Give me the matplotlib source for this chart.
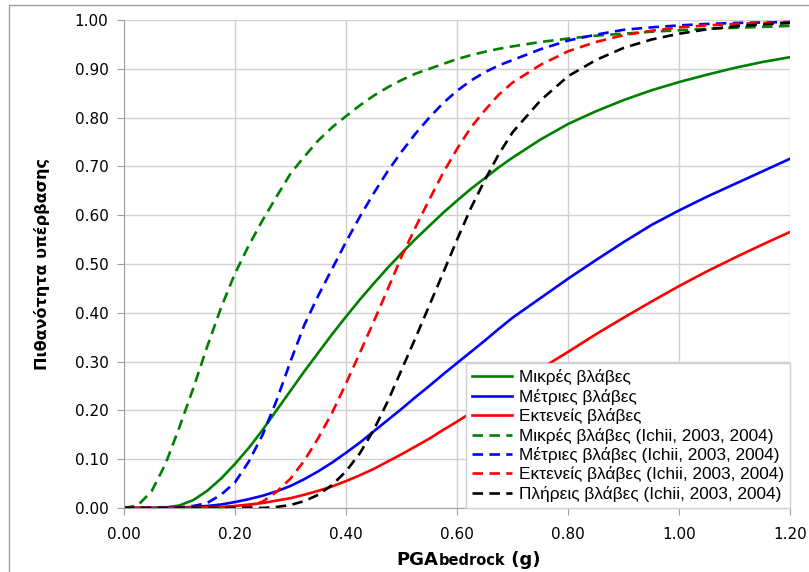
import matplotlib.pyplot as plt
from matplotlib.offsetbox import TextArea, HPacker, AnchoredOffsetbox

pga = [0.000, 0.025, 0.050, 0.075, 0.100, 0.125, 0.150, 0.175, 0.200, 0.225, 0.250, 0.275,
       0.300, 0.325, 0.350, 0.375, 0.400, 0.425, 0.450, 0.475, 0.500, 0.525, 0.550, 0.575,
       0.600, 0.625, 0.650, 0.675, 0.700, 0.750, 0.800, 0.850, 0.900, 0.950, 1.000, 1.050,
       1.100, 1.150, 1.200]

minor = [0.000, 0.000, 0.000, 0.001, 0.005, 0.016, 0.035, 0.060, 0.090, 0.123, 0.160, 0.200,
         0.240, 0.280, 0.318, 0.356, 0.392, 0.427, 0.460, 0.492, 0.522, 0.551, 0.578, 0.605,
         0.630, 0.654, 0.676, 0.698, 0.718, 0.755, 0.787, 0.813, 0.836, 0.856, 0.873, 0.888,
         0.902, 0.914, 0.924]
moderate = [0.000, 0.000, 0.000, 0.000, 0.001, 0.002, 0.004, 0.007, 0.012, 0.018, 0.025, 0.034,
            0.045, 0.059, 0.075, 0.093, 0.113, 0.134, 0.157, 0.180, 0.203, 0.227, 0.250, 0.274,
            0.297, 0.320, 0.343, 0.367, 0.390, 0.430, 0.470, 0.508, 0.545, 0.580, 0.610, 0.638,
            0.664, 0.690, 0.716]
extensive = [0.000, 0.000, 0.000, 0.000, 0.000, 0.001, 0.001, 0.002, 0.004, 0.007, 0.010, 0.015,
             0.020, 0.027, 0.035, 0.044, 0.055, 0.067, 0.080, 0.095, 0.110, 0.126, 0.142, 0.160,
             0.177, 0.195, 0.213, 0.232, 0.250, 0.285, 0.320, 0.356, 0.390, 0.423, 0.455, 0.485,
             0.513, 0.540, 0.566]

minor_ichii = [0.000, 0.005, 0.034, 0.090, 0.165, 0.245, 0.330, 0.410, 0.480, 0.538, 0.590, 0.638,
               0.685, 0.720, 0.753, 0.780, 0.803, 0.825, 0.845, 0.862, 0.877, 0.890, 0.900, 0.910,
               0.920, 0.928, 0.935, 0.941, 0.946, 0.955, 0.962, 0.968, 0.972, 0.976, 0.979, 0.982,
               0.984, 0.986, 0.988]
moderate_ichii = [0.000, 0.000, 0.000, 0.000, 0.001, 0.004, 0.010, 0.027, 0.052, 0.095, 0.150, 0.220,
                  0.300, 0.375, 0.435, 0.490, 0.545, 0.597, 0.645, 0.690, 0.730, 0.767, 0.800, 0.830,
                  0.855, 0.876, 0.893, 0.907, 0.918, 0.940, 0.958, 0.970, 0.980, 0.985, 0.989, 0.992,
                  0.994, 0.995, 0.996]
extensive_ichii = [0.000, 0.000, 0.000, 0.000, 0.000, 0.000, 0.000, 0.000, 0.000, 0.003, 0.013, 0.033,
                   0.060, 0.097, 0.143, 0.195, 0.255, 0.318, 0.382, 0.448, 0.515, 0.575, 0.632, 0.687,
                   0.736, 0.780, 0.815, 0.847, 0.872, 0.908, 0.936, 0.955, 0.969, 0.978, 0.985, 0.989,
                   0.992, 0.994, 0.995]
complete_ichii = [0.000, 0.000, 0.000, 0.000, 0.000, 0.000, 0.000, 0.000, 0.000, 0.000, 0.000, 0.002,
                  0.006, 0.014, 0.027, 0.047, 0.075, 0.112, 0.160, 0.218, 0.283, 0.348, 0.415, 0.482,
                  0.550, 0.615, 0.672, 0.725, 0.770, 0.835, 0.885, 0.918, 0.943, 0.960, 0.972, 0.981,
                  0.987, 0.991, 0.994]

labels = ['Μικρές βλάβες', 'Μέτριες βλάβες', 'Εκτενείς βλάβες',
          'Μικρές βλάβες (Ichii, 2003, 2004)', 'Μέτριες βλάβες (Ichii, 2003, 2004)',
          'Εκτενείς βλάβες (Ichii, 2003, 2004)', 'Πλήρεις βλάβες (Ichii, 2003, 2004)']

xticks = [0.0, 0.2, 0.4, 0.6, 0.8, 1.0, 1.2]
yticks = [0.0, 0.1, 0.2, 0.3, 0.4, 0.5, 0.6, 0.7, 0.8, 0.9, 1.0]

fig = plt.figure(figsize=(8.09, 5.72), dpi=100)
ax = fig.add_axes([0.153, 0.112, 0.824, 0.853])

series = [minor, moderate, extensive, minor_ichii, moderate_ichii, extensive_ichii, complete_ichii]
colors = ['#008000', '#0000ff', '#ff0000', '#008000', '#0000ff', '#ff0000', '#000000']
dash = (0, (4, 2.4))
styles = ['-', '-', '-', dash, dash, dash, dash]
for ys, c, ls, lab in zip(series, colors, styles, labels):
    ax.plot(pga, ys, color=c, ls=ls, lw=1.9, label=lab)

ax.set_xlim(0, 1.2)
ax.set_ylim(0, 1.0)
ax.set_xticks(xticks)
ax.set_yticks(yticks)
ax.set_xticklabels([f'{v:.2f}' for v in xticks])
ax.set_yticklabels([f'{v:.2f}' for v in yticks])
ax.tick_params(labelsize=11, length=5, color='#a0a0a0', labelcolor='black')
ax.tick_params(axis='x', pad=9)
ax.tick_params(axis='y', pad=6)
ax.grid(True, color='#d0d0d0', lw=1)
ax.set_axisbelow(True)
for side in ['top', 'right']:
    ax.spines[side].set_visible(False)
for side in ['left', 'bottom']:
    ax.spines[side].set_color('#a0a0a0')

ax.set_ylabel('Πιθανότητα υπέρβασης', fontsize=11.5, fontweight='bold', labelpad=18)

parts = HPacker(children=[TextArea('PGA', textprops=dict(fontsize=13, fontweight='bold')),
                          TextArea('bedrock', textprops=dict(fontsize=10.5, fontweight='bold')),
                          TextArea(' (g)', textprops=dict(fontsize=13, fontweight='bold'))],
                align='baseline', pad=0, sep=0)
xlab = AnchoredOffsetbox(loc='upper center', child=parts, pad=0, frameon=False,
                         bbox_to_anchor=(0.517, -0.088), bbox_transform=ax.transAxes, borderpad=0)
ax.add_artist(xlab)

leg = ax.legend(loc='lower right', bbox_to_anchor=(1.0, 0.0), frameon=True, fancybox=False,
                prop={'family': 'Liberation Sans', 'size': 12.4}, handlelength=2.35,
                labelspacing=0.2, handletextpad=0.4, borderpad=0.35, borderaxespad=0.0)
leg.get_frame().set_edgecolor('#d0d0d0')
leg.get_frame().set_linewidth(1)
leg.get_frame().set_alpha(1)

fig.patches.append(plt.Rectangle((0.011, -0.05), 1.2, 1.041, transform=fig.transFigure,
                                 fill=False, edgecolor='#a0a0a0', lw=1))

fig.savefig('out.png', dpi=100)
